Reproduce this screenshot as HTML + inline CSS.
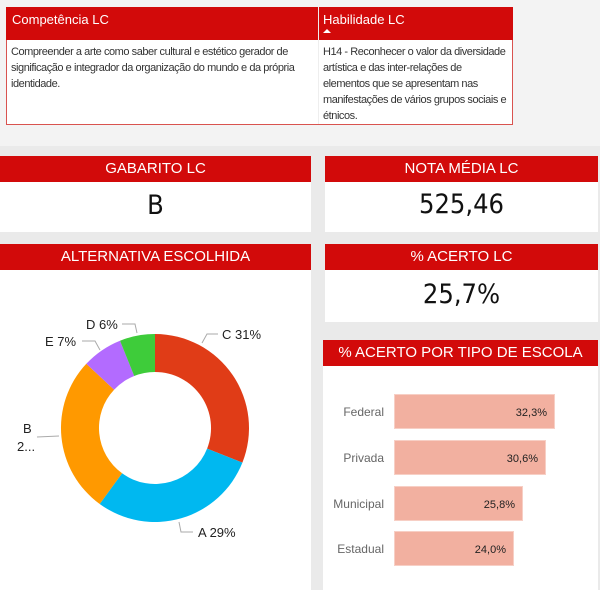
<!DOCTYPE html>
<html><head><style>
body{margin:0;width:600px;height:590px;background:#eaeaea;font-family:"Liberation Sans",sans-serif;position:relative;overflow:hidden}
.a{position:absolute}
.hdr{position:absolute;background:#d20a0a;color:#fff;text-align:center;font-size:15px;line-height:26px}
.pn{position:absolute;background:#fff}
.big{position:absolute;text-align:center;color:#111;font-family:"DejaVu Sans Condensed","Liberation Sans",sans-serif}
.tx{position:absolute;font-size:11px;line-height:16px;color:#333;letter-spacing:-0.45px;white-space:nowrap}
</style></head><body>
<div class="a" style="left:0;top:0;width:600px;height:146px;background:#f3f3f3"></div>
<div class="pn" style="left:6px;top:7px;width:505px;height:116px;border:1px solid #d9534f"></div>
<div class="a" style="left:6px;top:7px;width:507px;height:33px;background:#d20a0a"></div>
<div class="a" style="left:318px;top:7px;width:1px;height:117px;background:#eee"></div>
<div class="a" style="left:12px;top:12px;color:#fff;font-size:13px">Competência LC</div>
<div class="a" style="left:323px;top:12px;color:#fff;font-size:13px">Habilidade LC</div>
<div class="a" style="left:323px;top:29px;width:0;height:0;border-left:4px solid transparent;border-right:4px solid transparent;border-bottom:4px solid #fff"></div>
<div class="tx" style="left:11px;top:44px">Compreender a arte como saber cultural e estético gerador de<br>significação e integrador da organização do mundo e da própria<br>identidade.</div>
<div class="tx" style="left:323px;top:44px">H14 - Reconhecer o valor da diversidade<br>artística e das inter-relações de<br>elementos que se apresentam nas<br>manifestações de vários grupos sociais e<br>étnicos.</div>

<div class="pn" style="left:0;top:156px;width:311px;height:76px"></div>
<div class="hdr" style="left:0;top:156px;width:311px">GABARITO LC</div>
<div class="big" style="left:0;top:190px;width:311px;font-size:27px">B</div>

<div class="pn" style="left:325px;top:156px;width:273px;height:76px"></div>
<div class="hdr" style="left:325px;top:156px;width:273px">NOTA MÉDIA LC</div>
<div class="big" style="left:325px;top:189px;width:273px;font-size:27px">525,46</div>

<div class="pn" style="left:325px;top:244px;width:273px;height:78px"></div>
<div class="hdr" style="left:325px;top:244px;width:273px">% ACERTO LC</div>
<div class="big" style="left:325px;top:279px;width:273px;font-size:27px">25,7%</div>

<div class="pn" style="left:0;top:244px;width:311px;height:346px"></div>
<div class="hdr" style="left:0;top:244px;width:311px">ALTERNATIVA ESCOLHIDA</div>
<svg class="a" style="left:0;top:0" width="311" height="590">
<g transform="translate(155,428)">
<path d="M0,-94 A94,94 0 0 1 87.4,34.6 L52.1,20.6 A56,56 0 0 0 0,-56Z" fill="#e03c17"/>
<path d="M87.4,34.6 A94,94 0 0 1 -55.3,76 L-32.9,45.3 A56,56 0 0 0 52.1,20.6Z" fill="#00b8f0"/>
<path d="M-55.3,76 A94,94 0 0 1 -68.7,-64.2 L-40.9,-38.3 A56,56 0 0 0 -32.9,45.3Z" fill="#ff9900"/>
<path d="M-68.7,-64.2 A94,94 0 0 1 -35,-87.3 L-20.8,-52 A56,56 0 0 0 -40.9,-38.3Z" fill="#b36bff"/>
<path d="M-35,-87.3 A94,94 0 0 1 0,-94 L0,-56 A56,56 0 0 0 -20.8,-52Z" fill="#3ecc3a"/>
</g>
<g stroke="#aaa" fill="none" stroke-width="1">
<path d="M202,343 L207,334 L218,334"/><path d="M137,333 L135,324 L122,324"/>
<path d="M100,350 L95,341 L82,341"/><path d="M59,436 L37,437"/><path d="M179,522 L181,532 L193,532"/>
</g>
<g font-size="13" fill="#222">
<text x="222" y="339">C 31%</text><text x="86" y="329">D 6%</text><text x="45" y="346">E 7%</text>
<text x="23" y="433">B</text><text x="17" y="451">2...</text><text x="198" y="537">A 29%</text>
</g>
</svg>

<div class="pn" style="left:323px;top:340px;width:275px;height:250px"></div>
<div class="hdr" style="left:323px;top:340px;width:275px;font-size:15px">% ACERTO POR TIPO DE ESCOLA</div>
<svg class="a" style="left:323px;top:340px" width="275" height="250">
<g fill="#f2b0a0" stroke="#f7cfc5">
<rect x="71.5" y="54.5" width="160" height="34"/><rect x="71.5" y="100.5" width="151" height="34"/>
<rect x="71.5" y="146.5" width="128" height="34"/><rect x="71.5" y="191.5" width="119" height="34"/>
</g>
<g font-size="12" fill="#666" text-anchor="end">
<text x="61" y="76">Federal</text><text x="61" y="122">Privada</text><text x="61" y="168">Municipal</text><text x="61" y="213">Estadual</text>
</g>
<g font-size="11" fill="#222" text-anchor="end">
<text x="224" y="76">32,3%</text><text x="215" y="122">30,6%</text><text x="192" y="168">25,8%</text><text x="183" y="213">24,0%</text>
</g>
</svg>
</body></html>
